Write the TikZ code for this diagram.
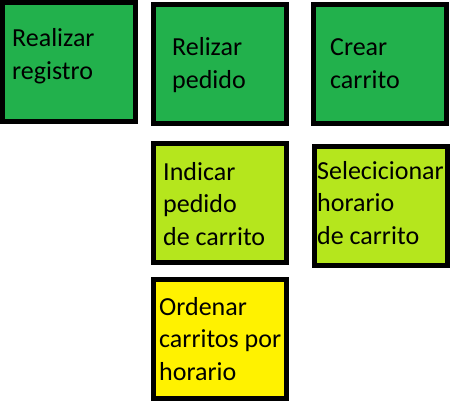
\documentclass[tikz,border=0pt]{standalone}
\usepackage{fontspec}
\setmainfont{Carlito}
\usepackage{xcolor}
\usepackage{tikz}
\usetikzlibrary{positioning}

\definecolor{verde}{RGB}{34,177,76}
\definecolor{lima}{RGB}{181,230,29}
\definecolor{amarillo}{RGB}{255,242,0}

\begin{document}
\begin{tikzpicture}[
  x=1pt, y=1pt,
  caja/.style={rectangle, draw=black, line width=5pt, minimum width=133pt, minimum height=119pt, inner sep=0pt},
  txt/.style={anchor=base west, align=left, inner sep=0pt, font=\fontsize{26}{32.5}\selectfont}
]
  \useasboundingbox (0,0) rectangle (452,-410);

  \node[caja, fill=verde] (reg) at (69,-61.5) {};
  \node[caja, fill=verde] (ped) at (220,-63.5) {};
  \node[caja, fill=verde] (car) at (380,-64) {};

  \node[caja, fill=lima] (ind) at (220,-203) {};
  \node[caja, fill=lima] (sel) at (381,-205.5) {};

  \node[caja, fill=amarillo] (ord) at (220,-339) {};

  % base = last line
  \node[txt] (treg) at (12,-79) {Realizar\\registro};
  \node[txt] (tped) at (172,-88) {Relizar\\pedido};
  \node[txt] (tcar) at (330,-88) {Crear\\carrito};
  \node[txt] (tind) at (163,-245) {Indicar\\pedido\\de carrito};
  \node[txt] (tsel) at (317,-244) {Selecicionar\\horario\\de carrito};
  \node[txt] (tord) at (159,-380) {Ordenar\\carritos por\\horario};
\end{tikzpicture}
\end{document}
